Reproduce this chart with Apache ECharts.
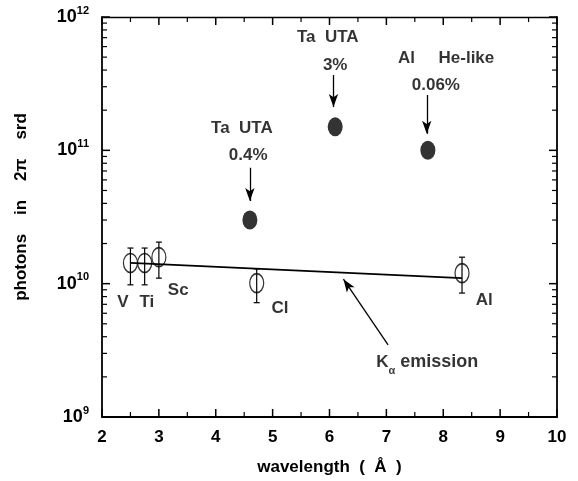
<!DOCTYPE html>
<html><head><meta charset="utf-8">
<script src="https://cdn.jsdelivr.net/npm/echarts@6/dist/echarts.min.js"></script>
<style>html,body{margin:0;padding:0;background:#fff}#c{width:578px;height:481px}</style>
</head><body><div id="c"></div><script>
// ---- data ----
const kalphaNames = ['V', 'Ti', 'Sc', 'Cl', 'Al'];
const kalphaX = [2.5, 2.75, 3.0, 4.72, 8.33];
const kalphaY = [1.43e10, 1.43e10, 1.58e10, 1.01e10, 1.2e10];
const kalphaLow = [0.98e10, 0.98e10, 1.1e10, 7.2e9, 8.5e9];
const kalphaHigh = [1.85e10, 1.85e10, 2.05e10, 1.29e10, 1.58e10];
const filledNames = ['Ta UTA 0.4%', 'Ta UTA 3%', 'Al He-like 0.06%'];
const filledX = [4.6, 6.1, 7.73];
const filledY = [3.0e10, 1.5e11, 1.0e11];
const fitX = [2.5, 8.33];
const fitY = [1.43e10, 1.1e10];
const xTickValues = [2, 3, 4, 5, 6, 7, 8, 9, 10];
const xMinorTicks = [2.5, 3.5, 4.5, 5.5, 6.5, 7.5, 8.5, 9.5];
const yTickValues = [1e9, 1e10, 1e11, 1e12];
const yMinorTicks = [2e9,3e9,4e9,5e9,6e9,7e9,8e9,9e9,2e10,3e10,4e10,5e10,6e10,7e10,8e10,9e10,2e11,3e11,4e11,5e11,6e11,7e11,8e11,9e11];

// ---- annotations (data coordinates) ----
const annoText = ['Ta  UTA', '0.4%', 'Ta  UTA', '3%', 'Al     He-like', '0.06%', 'V', 'Ti', 'Sc', 'Cl', 'Al'];
const annoX = [4.46, 4.57, 5.97, 6.10, 8.05, 7.87, 2.37, 2.79, 3.34, 5.13, 8.72];
const annoY = [1.47e11, 9.2e10, 7.08e11, 4.37e11, 4.93e11, 3.09e11, 7.29e9, 7.29e9, 8.97e9, 6.57e9, 7.54e9];
const kLabelPos = [7.72, 2.59e9];
const arrowFrom = [[4.6, 7.4e10], [6.07, 3.67e11], [7.71, 2.6e11], [7.03, 3.47e9]];
const arrowTo = [[4.6, 4.17e10], [6.07, 2.11e11], [7.71, 1.33e11], [6.245, 1.08e10]];

const FONT = '"Liberation Sans", Arial, Helvetica, sans-serif';
const ellipse = 'path://M0,10A7,10,0,1,1,14,10A7,10,0,1,1,0,10Z';
const black = '#000';
const lineSt = { color: black, width: 1.8 };
const X_MIN = 2, X_MAX = 10;
const Y_MIN = yTickValues[0], Y_MAX = yTickValues[yTickValues.length - 1];
const MAJOR_LEN = 8, MINOR_LEN = 5;

const chart = echarts.init(document.getElementById('c'), null, { renderer: 'canvas' });

const xBase = { type: 'value', min: X_MIN, max: X_MAX, interval: 1, splitLine: { show: false } };
const yBase = { type: 'log', logBase: 10, min: Y_MIN, max: Y_MAX, splitLine: { show: false } };

// tick list for the frame (0 = x tick, 1 = y tick; third field = length)
const tickData = []
  .concat(xTickValues.map(v => [v, 0, MAJOR_LEN]))
  .concat(xMinorTicks.map(v => [v, 0, MINOR_LEN]))
  .concat(yTickValues.map(v => [v, 1, MAJOR_LEN]))
  .concat(yMinorTicks.map(v => [v, 1, MINOR_LEN]));

const option = {
  backgroundColor: '#fff',
  animation: false,
  grid: { left: 102, right: 21, top: 17, bottom: 64, containLabel: false, outerBoundsMode: 'none' },
  xAxis: [
    Object.assign({}, xBase, {
      position: 'bottom',
      axisLine: { show: true, onZero: false, lineStyle: lineSt },
      axisTick: { show: false },
      axisLabel: { show: true, margin: 12, color: black, fontFamily: FONT, fontWeight: 'bold', fontSize: 17,
        customValues: xTickValues, formatter: v => String(v) },
      name: 'wavelength  (  Å  )', nameLocation: 'middle', nameGap: 42,
      nameTextStyle: { color: black, fontFamily: FONT, fontWeight: 'bold', fontSize: 17 }
    }),
    Object.assign({}, xBase, {
      position: 'top',
      axisLine: { show: true, onZero: false, lineStyle: { color: black, width: 1.3 } },
      axisTick: { show: false },
      axisLabel: { show: false }
    })
  ],
  yAxis: [
    Object.assign({}, yBase, {
      position: 'left',
      axisLine: { show: true, onZero: false, lineStyle: lineSt },
      axisTick: { show: false },
      axisLabel: {
        show: true, margin: 13, color: black,
        formatter: v => '{b|10}{s|' + Math.round(Math.log10(v)) + '}',
        rich: {
          b: { fontFamily: FONT, fontWeight: 'bold', fontSize: 18, color: black, lineHeight: 24 },
          s: { fontFamily: FONT, fontWeight: 'bold', fontSize: 11, color: black, verticalAlign: 'top', lineHeight: 13 }
        }
      },
      name: 'photons    in    2π    srd', nameLocation: 'middle', nameGap: 72, nameRotate: 90,
      nameTextStyle: { color: black, fontFamily: FONT, fontWeight: 'bold', fontSize: 17, padding: [0, 0, 0, 20] }
    }),
    Object.assign({}, yBase, {
      position: 'right',
      axisLine: { show: true, onZero: false, lineStyle: lineSt },
      axisTick: { show: false },
      axisLabel: { show: false }
    })
  ],
  series: [
    {
      name: 'frame ticks', type: 'custom', xAxisIndex: 0, yAxisIndex: 0, silent: true, z: 6,
      data: tickData,
      renderItem: (params, api) => {
        const cs = params.coordSys;
        const v = api.value(0), isY = api.value(1) === 1, len = api.value(2);
        const st = { stroke: black, lineWidth: len === MAJOR_LEN ? 1.5 : 1.2 };
        if (!isY) {
          const px = api.coord([v, Y_MIN])[0];
          const b = cs.y + cs.height, t = cs.y;
          return { type: 'group', children: [
            { type: 'line', shape: { x1: px, y1: b, x2: px, y2: b - len }, style: st },
            { type: 'line', shape: { x1: px, y1: t, x2: px, y2: t + len }, style: st }
          ] };
        }
        const py = api.coord([X_MIN, v])[1];
        const l = cs.x, r = cs.x + cs.width;
        return { type: 'group', children: [
          { type: 'line', shape: { x1: l, y1: py, x2: l + len, y2: py }, style: st },
          { type: 'line', shape: { x1: r, y1: py, x2: r - len, y2: py }, style: st }
        ] };
      }
    },
    {
      name: 'fit', type: 'line', xAxisIndex: 0, yAxisIndex: 0,
      data: fitX.map((x, i) => [x, fitY[i]]),
      symbol: 'none', lineStyle: { color: black, width: 1.8 }, z: 2,
      markLine: {
        silent: true, symbol: ['none', 'arrow'], symbolSize: [7, 13], precision: 6,
        lineStyle: { color: black, width: 1.3, type: 'solid' }, label: { show: false },
        emphasis: { disabled: true },
        data: arrowFrom.map((f, i) => [{ coord: f }, { coord: arrowTo[i] }])
      }
    },
    {
      name: 'errors', type: 'custom', xAxisIndex: 0, yAxisIndex: 0,
      data: kalphaX.map((x, i) => [x, kalphaY[i], kalphaLow[i], kalphaHigh[i]]),
      renderItem: (params, api) => {
        const top = api.coord([api.value(0), api.value(3)]);
        const bot = api.coord([api.value(0), api.value(2)]);
        const cw = 3;
        const st = { stroke: black, lineWidth: 1.2 };
        return { type: 'group', children: [
          { type: 'line', shape: { x1: top[0], y1: top[1], x2: bot[0], y2: bot[1] }, style: st },
          { type: 'line', shape: { x1: top[0] - cw, y1: top[1], x2: top[0] + cw, y2: top[1] }, style: st },
          { type: 'line', shape: { x1: bot[0] - cw, y1: bot[1], x2: bot[0] + cw, y2: bot[1] }, style: st }
        ] };
      }, z: 3
    },
    {
      name: 'K-alpha', type: 'scatter', xAxisIndex: 0, yAxisIndex: 0,
      data: kalphaX.map((x, i) => ({ name: kalphaNames[i], value: [x, kalphaY[i]] })),
      symbol: ellipse, symbolSize: [14, 19],
      itemStyle: { color: 'rgba(0,0,0,0)', borderColor: black, borderWidth: 1.4 }, z: 4
    },
    {
      name: 'lines', type: 'scatter', xAxisIndex: 0, yAxisIndex: 0,
      data: filledX.map((x, i) => ({ name: filledNames[i], value: [x, filledY[i]] })),
      symbol: ellipse, symbolSize: [15, 19],
      itemStyle: { color: black }, z: 4
    },
    {
      name: 'annotations', type: 'scatter', xAxisIndex: 0, yAxisIndex: 0, silent: true,
      symbolSize: 1, itemStyle: { color: 'rgba(0,0,0,0)' }, z: 5,
      data: annoX.map((x, i) => ({ value: [x, annoY[i]], label: { formatter: annoText[i] } })).concat([
        { value: kLabelPos, label: { formatter: '{k|K}{a|α}{e| emission}' } }
      ]),
      label: {
        show: true, position: 'inside', align: 'center', verticalAlign: 'middle',
        color: black, fontFamily: FONT, fontWeight: 'bold', fontSize: 17,
        rich: {
          k: { fontFamily: FONT, fontWeight: 'bold', fontSize: 17, color: black, lineHeight: 30 },
          a: { fontFamily: FONT, fontWeight: 'bold', fontSize: 11, color: black, verticalAlign: 'bottom', lineHeight: 12 },
          e: { fontFamily: FONT, fontWeight: 'bold', fontSize: 18, color: black, lineHeight: 30 }
        }
      }
    }
  ]
};
chart.setOption(option);
</script></body></html>
